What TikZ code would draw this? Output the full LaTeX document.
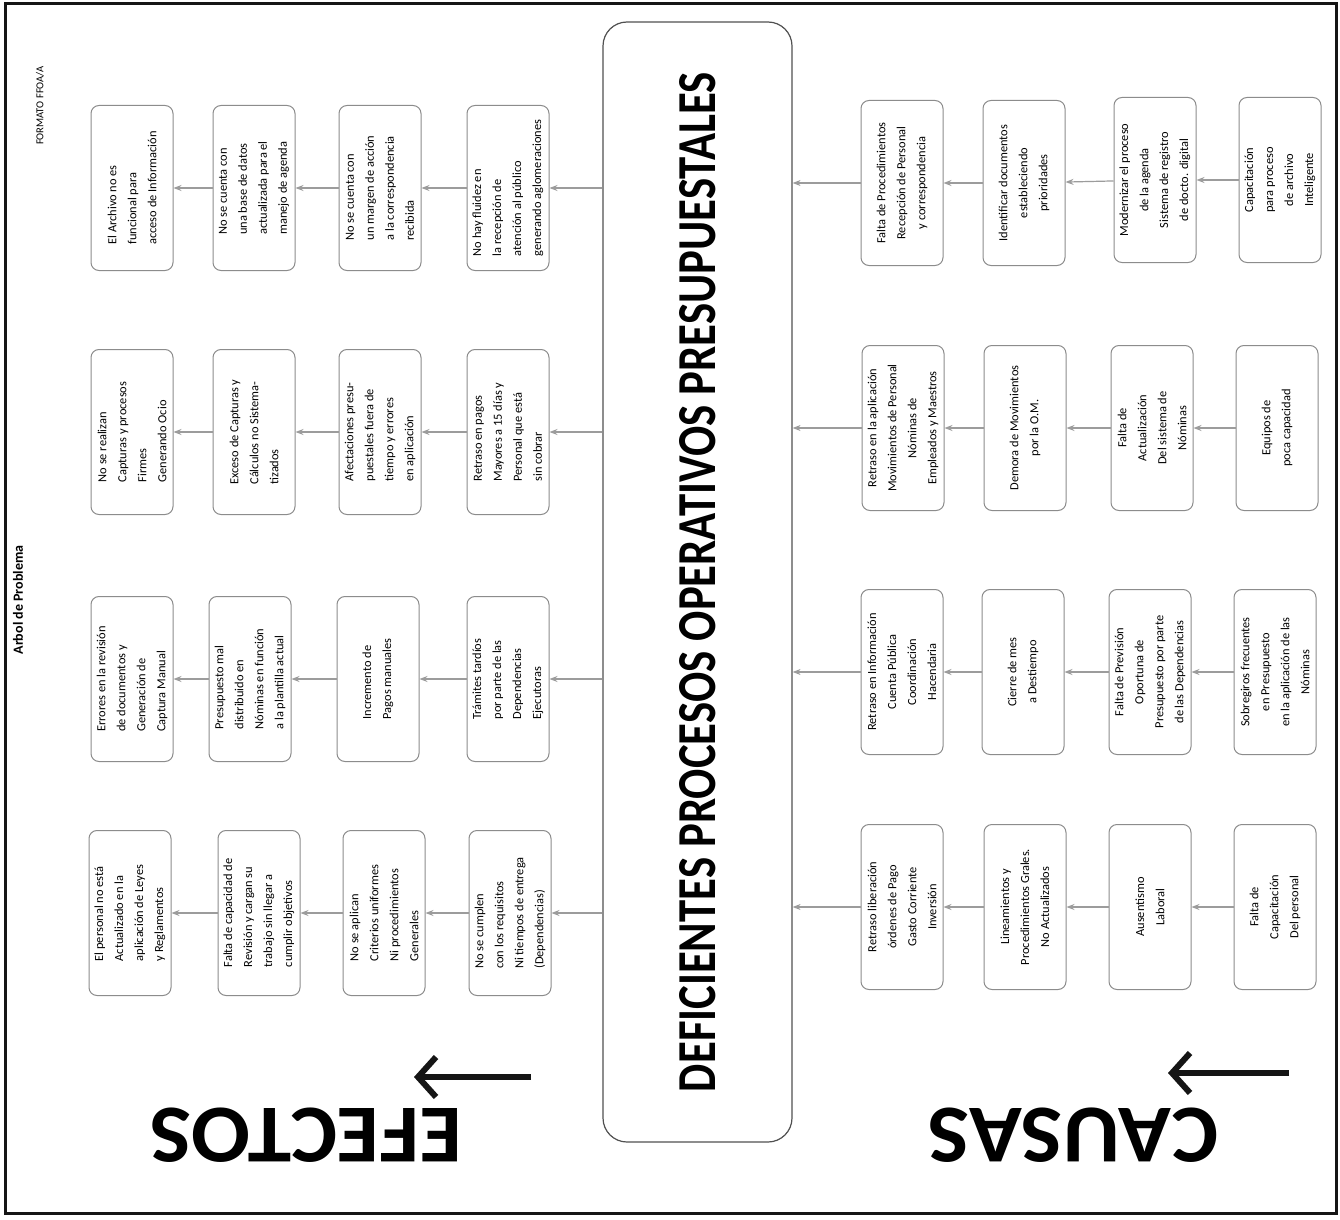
\documentclass[tikz,border=0pt]{standalone}
\usepackage{fontspec}
\setmainfont{Carlito}
\usepackage{graphicx}
\usetikzlibrary{arrows.meta, positioning}
\definecolor{boxgray}{HTML}{8C8C8C}
\definecolor{linkgray}{HTML}{9C9C9C}
\definecolor{inkblack}{HTML}{151515}

\begin{document}
\begin{tikzpicture}[x=0.5pt, y=-0.5pt,
    efecto/.style={draw=boxgray, rounded corners=4pt, rotate=90, minimum width=82.5pt, minimum height=41pt, inner sep=2pt, align=left, font=\fontsize{6.2}{10}\selectfont, line width=0.5pt},
    causa/.style={efecto, align=center},
    flecha/.style={draw=linkgray, line width=0.6pt, -{Stealth[length=4pt,width=3pt]}},
    bigarrow/.style={draw=inkblack, line width=3pt, -{Straight Barb[length=9pt,width=20pt]}},
    >=Stealth
  ]
  \useasboundingbox (0,0) rectangle (1340,1220);
  \fill[white] (0,0) rectangle (1340,1220);
  \draw[line width=1.5pt, inkblack] (5,4) rectangle (1336,1213);

  \node[rotate=90, font=\bfseries\fontsize{7}{8}\selectfont] (titulo) at (18,600) {Arbol de Problema};
  \node[rotate=90, anchor=west, font=\fontsize{5.3}{6}\selectfont] (formato) at (40,152) {FORMATO FFOA/A};

  % problema central
  \node[draw=inkblack!75, rounded corners=12pt, minimum width=94.5pt, minimum height=560pt, line width=0.6pt] (prob) at (697.5,582)
    {\rotatebox{90}{\resizebox{510pt}{18pt}{\bfseries DEFICIENTES PROCESOS OPERATIVOS PRESUPUESTALES}}};

  % efectos
  \node[efecto] (e1a) at (132,188) {El Archivo no es\\funcional para\\acceso de Información};
  \node[efecto] (e1b) at (254,188) {No se cuenta con\\una base de datos\\actualizada para el\\manejo de agenda};
  \node[efecto] (e1c) at (380,188) {No se cuenta con\\un margen de acción\\a la correspondencia\\recibida};
  \node[efecto] (e1d) at (508,188) {No hay fluidez en\\la recepción de\\atención al público\\generando aglomeraciones};

  \node[efecto] (e2a) at (132,432) {No se realizan\\Capturas y procesos\\Firmes\\Generando Ocio};
  \node[efecto] (e2b) at (254,432) {Exceso de Capturas y\\Cálculos no Sistema-\\tizados};
  \node[efecto] (e2c) at (380,432) {Afectaciones presu-\\puestales fuera de\\tiempo y errores\\en aplicación};
  \node[efecto] (e2d) at (508,432) {Retraso en pagos\\Mayores a 15 días y\\Personal que está\\sin cobrar};

  \node[efecto] (e3a) at (132,679) {Errores en la revisión\\de documentos y\\Generación de\\Captura Manual};
  \node[efecto] (e3b) at (250,679) {Presupuesto mal\\distribuido en\\Nóminas en función\\a la plantilla actual};
  \node[efecto] (e3c) at (378,679) {Incremento de\\Pagos manuales};
  \node[efecto] (e3d) at (508,679) {Trámites tardíos\\por parte de las\\Dependencias\\Ejecutoras};

  \node[efecto] (e4a) at (130,913) {El personal no está\\Actualizado en la\\aplicación de Leyes\\y Reglamentos};
  \node[efecto] (e4b) at (259,913) {Falta de capacidad de\\Revisión y cargan su\\trabajo sin llegar a\\cumplir objetivos};
  \node[efecto] (e4c) at (384,913) {No se aplican\\Criterios uniformes\\Ni procedimientos\\Generales};
  \node[efecto] (e4d) at (510,913) {No se cumplen\\con los requisitos\\Ni tiempos de entrega\\(Dependencias)};

  % causas
  \node[causa] (c1a) at (902,183) {Falta de Procedimientos\\Recepción de Personal\\y correspondencia};
  \node[causa] (c1b) at (1024,183) {Identificar documentos\\estableciendo\\prioridades};
  \node[causa] (c1c) at (1155,180) {Modernizar el proceso\\de la agenda\\Sistema de registro\\de docto. digital};
  \node[causa] (c1d) at (1280,180) {Capacitación\\para proceso\\de archivo\\Inteligente};

  \node[causa] (c2a) at (903,428) {Retraso en la aplicación\\Movimientos de Personal\\Nóminas de\\Empleados y Maestros};
  \node[causa] (c2b) at (1025,428) {Demora de Movimientos\\por la O.M.};
  \node[causa] (c2c) at (1152,428) {Falta de\\Actualización\\Del sistema de\\Nóminas};
  \node[causa] (c2d) at (1277,428) {Equipos de\\poca capacidad};

  \node[causa] (c3a) at (902,672) {Retraso en Información\\Cuenta Pública\\Coordinación\\Hacendaria};
  \node[causa] (c3b) at (1023,672) {Cierre de mes\\a Destiempo};
  \node[causa] (c3c) at (1150,672) {Falta de Previsión\\Oportuna de\\Presupuesto por parte\\de las Dependencias};
  \node[causa] (c3d) at (1275,672) {Sobregiros frecuentes\\en Presupuesto\\en la aplicación de las\\Nóminas};

  \node[causa] (c4a) at (902,907) {Retraso liberación\\órdenes de Pago\\Gasto Corriente\\Inversión};
  \node[causa] (c4b) at (1025,907) {Lineamientos y\\Procedimientos Grales.\\No Actualizados};
  \node[causa] (c4c) at (1150,907) {Ausentismo\\Laboral};
  \node[causa] (c4d) at (1275,907) {Falta de\\Capacitación\\Del personal};

  \foreach \r in {1,...,4}{
    \draw[flecha] (prob.west |- e\r d) -- (e\r d);
    \draw[flecha] (e\r d) -- (e\r c);
    \draw[flecha] (e\r c) -- (e\r b);
    \draw[flecha] (e\r b) -- (e\r a);
    \draw[flecha] (c\r d) -- (c\r c);
    \draw[flecha] (c\r c) -- (c\r b);
    \draw[flecha] (c\r b) -- (c\r a);
    \draw[flecha] (c\r a) -- (prob.east |- c\r a);
  }

  % rotulos
  \node[rotate=180] (efectos) at (306,1135) {\resizebox{156pt}{27pt}{\bfseries EFECTOS}};
  \node[rotate=180] (causas) at (1073,1135) {\resizebox{145pt}{27pt}{\bfseries CAUSAS}};
  \coordinate (efA) at (531,1077);
  \coordinate (efB) at (414,1077);
  \coordinate (caA) at (1289,1073);
  \coordinate (caB) at (1168,1073);
  \draw[bigarrow] (efA) -- (efB);
  \draw[bigarrow] (caA) -- (caB);
\end{tikzpicture}
\end{document}
